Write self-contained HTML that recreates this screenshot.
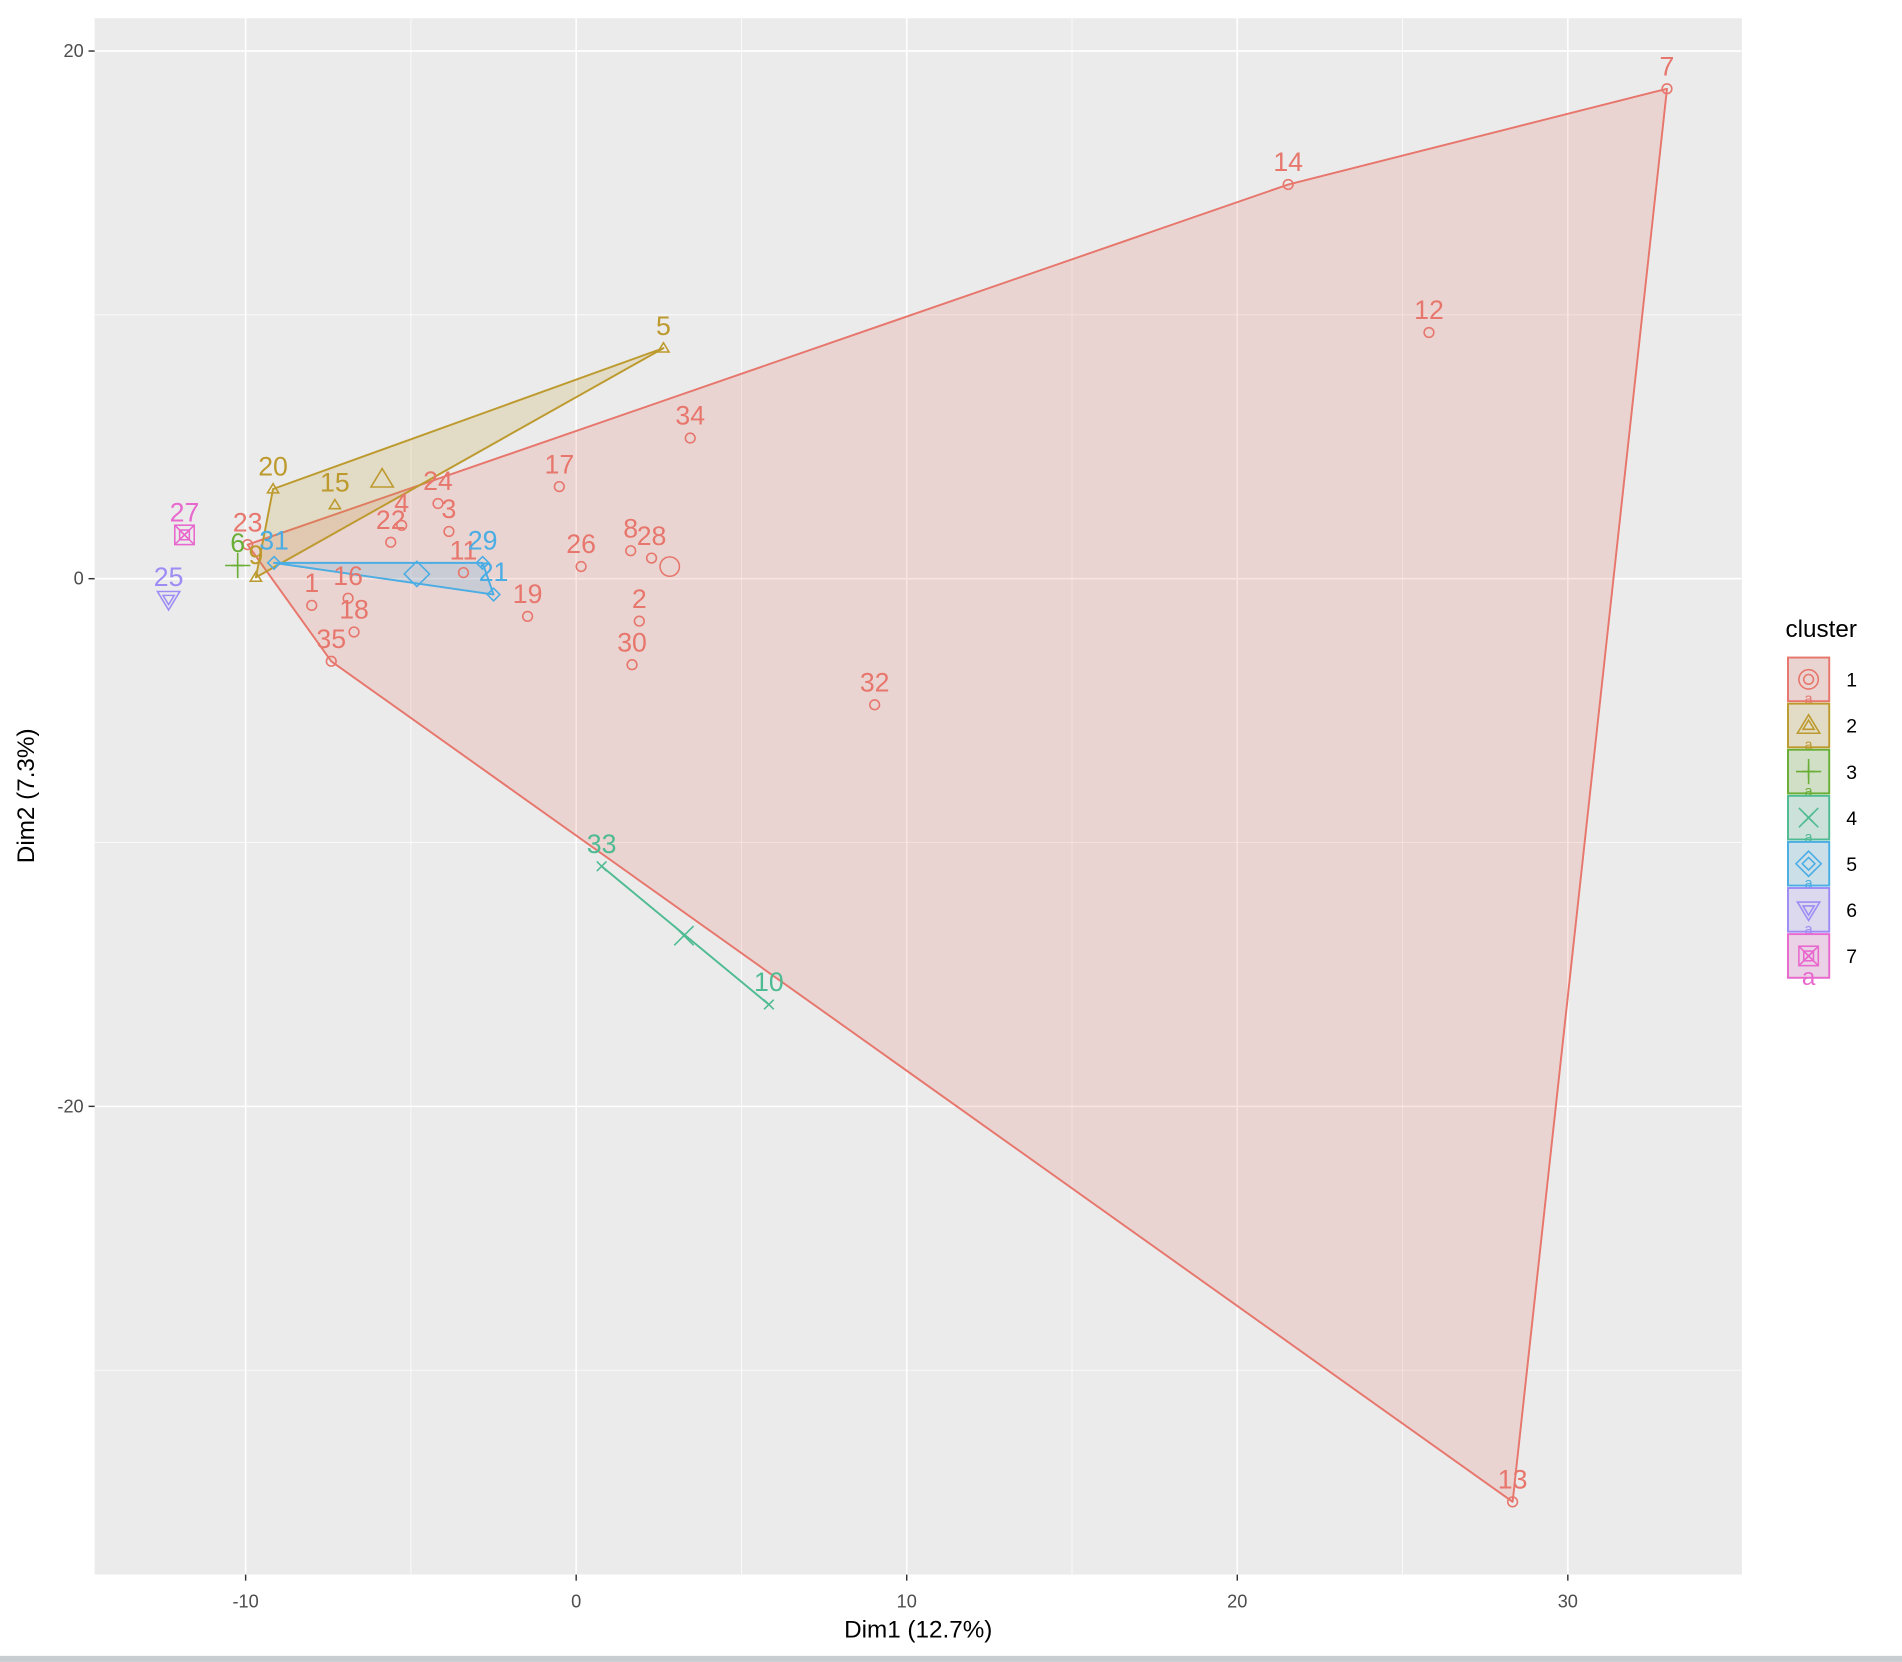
<!DOCTYPE html>
<html><head><meta charset="utf-8"><style>
html,body{margin:0;padding:0;background:#fff;}
svg{display:block;font-family:"Liberation Sans",sans-serif;}
</style></head><body>
<svg id="chart" width="1902" height="1662" viewBox="0 0 1568 1370" xmlns="http://www.w3.org/2000/svg"></svg>
<script>
// ---- data ----
const pointIds = [7,14,12,34,17,24,4,3,22,23,8,28,26,11,1,16,18,35,19,2,30,32,13, 5,20,15,9, 6, 33,10, 31,29,21, 25, 27];
const pointX = [33.0,21.54,25.8,3.45,-0.51,-4.18,-5.28,-3.85,-5.61,-9.94,1.65,2.28,0.15,-3.41,-8.0,-6.9,-6.72,-7.41,-1.47,1.91,1.69,9.03,28.33, 2.64,-9.17,-7.3,-9.69, -10.24, 0.77,5.83, -9.14,-2.83,-2.5, -12.33, -11.85];
const pointY = [18.57,14.94,9.33,5.33,3.49,2.85,2.02,1.79,1.38,1.29,1.06,0.78,0.46,0.23,-1.01,-0.74,-2.02,-3.13,-1.43,-1.61,-3.26,-4.78,-34.99, 8.74,3.4,2.8,0.05, 0.5, -10.9,-16.14, 0.6,0.6,-0.6, -0.78, 1.66];
const pointCluster = [1,1,1,1,1,1,1,1,1,1,1,1,1,1,1,1,1,1,1,1,1,1,1, 2,2,2,2, 3, 4,4, 5,5,5, 6, 7];
const centroidX = [2.83,-5.87,-10.24,3.26,-4.82,-12.33,-11.85];
const centroidY = [0.46,3.77,0.5,-13.53,0.18,-0.78,1.66];
const hull1 = [7,13,35,23,14];
const hull2 = [20,5,9];
const hull4 = [33,10];
const hull5 = [31,29,21];
const xTicks = [-10,0,10,20,30];
const yTicks = [20,0,-20];
const xMinor = [-5,5,15,25];
const yMinor = [10,-10,-30];
const clusterLabels = ["1","2","3","4","5","6","7"];
// ---- layout ----
const colors = ["#E7766C","#BD9A2E","#69AE35","#4FBB92","#4AADE3","#9E8CF5","#E868CE"];
const P = {l:78,r:1436,t:15,b:1298};
const sx = v => 475 + v*27.25;
const sy = v => 477 - v*21.75;
const NS = "http://www.w3.org/2000/svg";
const svg = document.getElementById('chart');
function mk(tag, attrs, parent){
  const e = document.createElementNS(NS, tag);
  for (const k in attrs) e.setAttribute(k, attrs[k]);
  (parent||svg).appendChild(e);
  return e;
}
const bg = mk('rect',{x:P.l,y:P.t,width:P.r-P.l,height:P.b-P.t,fill:'#EBEBEB'});


xMinor.forEach(v=>{const l=mk('line',{x1:sx(v),x2:sx(v),y1:P.t,y2:P.b,stroke:'#fff','stroke-width':0.6});

});
yMinor.forEach(v=>{const l=mk('line',{x1:P.l,x2:P.r,y1:sy(v),y2:sy(v),stroke:'#fff','stroke-width':0.6});

});
xTicks.forEach(v=>{
  const l=mk('line',{x1:sx(v),x2:sx(v),y1:P.t,y2:P.b,stroke:'#fff','stroke-width':1.3});
  
  
  const tk=mk('line',{x1:sx(v),x2:sx(v),y1:P.b,y2:P.b+5,stroke:'#333','stroke-width':1.2});
  
  
  const t=mk('text',{x:sx(v),y:P.b+27,'text-anchor':'middle','font-size':15,fill:'#4D4D4D'});
  t.textContent=v;
  
  
});
yTicks.forEach(v=>{
  const l=mk('line',{x1:P.l,x2:P.r,y1:sy(v),y2:sy(v),stroke:'#fff','stroke-width':1.3});
  
  
  const tk=mk('line',{x1:P.l-5,x2:P.l,y1:sy(v),y2:sy(v),stroke:'#333','stroke-width':1.2});
  
  
  const t=mk('text',{x:P.l-9,y:sy(v)+5,'text-anchor':'end','font-size':15,fill:'#4D4D4D'});
  t.textContent=v;
  
  
});
function idx(id){return pointIds.indexOf(id);}
function hull(ids,c,name){
  const pts = ids.map(id=>sx(pointX[idx(id)])+','+sy(pointY[idx(id)])).join(' ');
  const p=mk('polygon',{points:pts,fill:colors[c],'fill-opacity':0.2,stroke:colors[c],'stroke-width':1.6,'stroke-linejoin':'round'});
  
  
}
hull(hull1,0,'hull-cluster-1');
hull(hull2,1,'hull-cluster-2');
hull(hull4,3,'hull-cluster-4');
hull(hull5,4,'hull-cluster-5');
function shape(c,x,y,r,parent){
  const col=colors[c]; const g=mk('g',{fill:'none',stroke:col,'stroke-width':1.3},parent);
  if(c===0){mk('circle',{cx:x,cy:y,r:r},g);}
  else if(c===1){mk('polygon',{points:`${x},${y-r*1.1} ${x-r*1.15},${y+r*0.8} ${x+r*1.15},${y+r*0.8}`},g);}
  else if(c===2){mk('line',{x1:x-r*1.3,x2:x+r*1.3,y1:y,y2:y},g);mk('line',{x1:x,x2:x,y1:y-r*1.3,y2:y+r*1.3},g);}
  else if(c===3){mk('line',{x1:x-r,x2:x+r,y1:y-r,y2:y+r},g);mk('line',{x1:x-r,x2:x+r,y1:y+r,y2:y-r},g);}
  else if(c===4){mk('polygon',{points:`${x},${y-r*1.3} ${x+r*1.3},${y} ${x},${y+r*1.3} ${x-r*1.3},${y}`},g);}
  else if(c===5){mk('polygon',{points:`${x},${y+r*1.1} ${x-r*1.15},${y-r*0.8} ${x+r*1.15},${y-r*0.8}`},g);}
  else {mk('rect',{x:x-r,y:y-r,width:2*r,height:2*r},g);mk('line',{x1:x-r,x2:x+r,y1:y-r,y2:y+r},g);mk('line',{x1:x-r,x2:x+r,y1:y+r,y2:y-r},g);}
  return g;
}
centroidX.forEach((v,i)=>{
  const g=shape(i,sx(v),sy(centroidY[i]),8);
  
  
});
pointIds.forEach((id,i)=>{
  const c=pointCluster[i]-1; const x=sx(pointX[i]), y=sy(pointY[i]);
  const g=shape(c,x,y,4);
  
  
  const t=mk('text',{x:x,y:y-11,'text-anchor':'middle','font-size':22,fill:colors[c]});
  t.textContent=id;
  
  
});
const xt=mk('text',{x:757,y:1350,'text-anchor':'middle','font-size':20,fill:'#000'});
xt.textContent='Dim1 (12.7%)';


const yt=mk('text',{x:0,y:0,'text-anchor':'middle','font-size':20,fill:'#000',transform:'translate(28,656) rotate(-90)'});
yt.textContent='Dim2 (7.3%)';


const lt=mk('text',{x:1472,y:525,'font-size':20,fill:'#000'});
lt.textContent='cluster';


clusterLabels.forEach((lab,i)=>{
  const cy=560+i*38;
  const g=mk('g',{});
  
  
  mk('rect',{x:1474,y:cy-18,width:34,height:36,fill:'#EBEBEB'},g);
  mk('rect',{x:1474,y:cy-18,width:34,height:36,fill:colors[i],'fill-opacity':0.2,stroke:colors[i],'stroke-width':1.6},g);
  shape(i,1491,cy,8,g); shape(i,1491,cy,4,g);
  const a=mk('text',{x:1491,y:cy+(i===6?24:20),'text-anchor':'middle','font-size':i===6?20:12,fill:colors[i]},g);
  a.textContent='a';
  const t=mk('text',{x:1522,y:cy+6,'font-size':16,fill:'#000'},g);
  t.textContent=lab;
});
const bl=mk('rect',{x:0,y:1365,width:1568,height:5,fill:'#C8CDD2'});


</script>
</body></html>
